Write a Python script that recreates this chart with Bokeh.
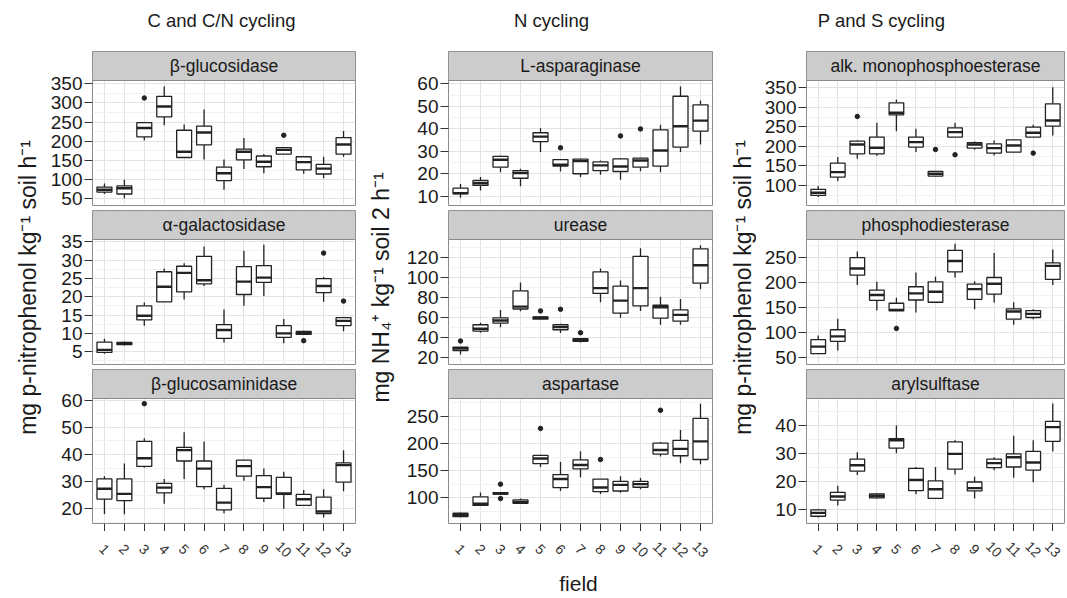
import math
import numpy as np
from bokeh.plotting import figure
from bokeh.layouts import row, column
from bokeh.models import Range1d, FixedTicker, ColumnDataSource, BoxAnnotation, Label
from bokeh.embed import file_html
from bokeh.resources import INLINE
from bokeh.core.properties import value

# ---------------- data ----------------
fields = list(range(1, 14))
field_labels = [str(f) for f in fields]
column_titles = ["C and C/N cycling", "N cycling", "P and S cycling"]
y_titles = ["mg p-nitrophenol kg\u207b\u00b9 soil h\u207b\u00b9",
            "mg NH\u2084\u207a kg\u207b\u00b9 soil 2 h\u207b\u00b9",
            "mg p-nitrophenol kg\u207b\u00b9 soil h\u207b\u00b9"]
x_title = "field"

# beta-glucosidase
glu_lo = [63, 52, 202, 242, 158, 153, 74, 128, 117, 167, 116, 104, 160]
glu_q1 = [68, 63, 212, 264, 158, 191, 98, 152, 134, 167, 126, 115, 167]
glu_med = [74, 78, 235, 291, 173, 223, 117, 173, 147, 178, 146, 129, 192]
glu_q3 = [81, 84, 249, 317, 229, 240, 133, 180, 162, 184, 160, 140, 210]
glu_hi = [90, 100, 250, 343, 244, 283, 153, 209, 167, 184, 162, 160, 227]
glu_out_x = [3, 10]
glu_out_y = [313, 216]
glu_ticks = [50, 100, 150, 200, 250, 300, 350]
glu_lim = [33, 358.6]

# alpha-galactosidase
gal_lo = [4.4, 6.7, 12.1, 18.6, 19.2, 22.9, 7.5, 17.5, 20.2, 7.3, 9.6, 18.6, 10.6]
gal_q1 = [4.8, 6.9, 13.7, 18.6, 21.3, 23.5, 8.6, 20.6, 23.9, 8.9, 9.7, 21.1, 12.1]
gal_med = [5.5, 7.2, 14.8, 22.7, 26.5, 24.5, 10.9, 24.1, 25.2, 10.0, 10.1, 22.9, 13.4]
gal_q3 = [7.6, 7.5, 17.5, 26.8, 28.3, 31.0, 12.4, 28.2, 28.5, 12.1, 10.5, 24.9, 14.3]
gal_hi = [8.5, 7.8, 18.4, 27.7, 29.1, 33.7, 16.5, 32.5, 34.2, 13.9, 10.7, 25.4, 14.3]
gal_out_x = [11, 12, 13]
gal_out_y = [8.0, 31.9, 18.8]
gal_ticks = [5, 10, 15, 20, 25, 30, 35]
gal_lim = [1.5, 35.6]

# beta-glucosaminidase
gam_lo = [18.1, 18.0, 35.1, 21.9, 31.0, 27.2, 18.4, 30.3, 22.5, 20.0, 21.3, 16.8, 26.5]
gam_q1 = [23.6, 23.0, 35.6, 25.9, 37.6, 28.2, 19.6, 32.0, 23.9, 25.3, 21.3, 18.2, 29.8]
gam_med = [27.4, 25.5, 38.6, 27.8, 41.6, 34.8, 22.3, 35.7, 28.0, 25.7, 23.5, 19.0, 36.1]
gam_q3 = [31.0, 31.0, 44.8, 29.4, 42.6, 37.6, 27.5, 37.9, 32.2, 31.6, 25.3, 24.3, 36.9]
gam_hi = [32.0, 36.7, 46.0, 31.0, 48.2, 44.8, 28.8, 38.1, 34.8, 33.6, 26.9, 27.2, 41.6]
gam_out_x = [3]
gam_out_y = [58.7]
gam_ticks = [20, 30, 40, 50, 60]
gam_lim = [14.6, 60.6]

# L-asparaginase
lasp_lo = [9.4, 12.7, 20.8, 14.6, 29.7, 21.1, 18.6, 19.6, 17.4, 21.2, 20.8, 29.7, 33.1]
lasp_q1 = [11.2, 14.9, 23.0, 18.1, 34.4, 23.5, 20.1, 21.5, 21.1, 23.0, 23.5, 31.9, 39.0]
lasp_med = [11.5, 15.9, 26.3, 20.4, 36.6, 24.1, 25.7, 23.8, 23.3, 26.0, 30.4, 41.2, 43.7]
lasp_q3 = [13.7, 17.1, 27.8, 21.5, 38.3, 26.4, 26.6, 25.4, 26.7, 27.0, 39.6, 54.5, 50.7]
lasp_hi = [15.6, 18.6, 28.2, 22.3, 40.3, 26.4, 26.9, 26.0, 27.0, 27.2, 41.8, 58.8, 52.6]
lasp_out_x = [6, 9, 10]
lasp_out_y = [31.6, 36.9, 40.0]
lasp_ticks = [10, 20, 30, 40, 50, 60]
lasp_lim = [6.0, 61.5]

# urease
ure_lo = [22.9, 44.7, 50.2, 66.0, 57.5, 44.3, 34.8, 74.9, 59.5, 66.4, 52.6, 52.6, 88.1]
ure_q1 = [26.9, 46.3, 54.2, 68.3, 58.1, 47.6, 36.1, 83.8, 64.1, 71.3, 59.1, 56.2, 94.0]
ure_med = [28.9, 48.6, 56.8, 70.6, 59.5, 50.2, 37.4, 89.1, 76.6, 89.1, 70.0, 62.4, 111.8]
ure_q3 = [30.2, 52.6, 59.5, 86.4, 60.4, 52.6, 38.7, 105.2, 91.0, 120.7, 72.0, 67.4, 128.2]
ure_hi = [30.5, 54.5, 67.4, 94.7, 60.4, 53.5, 38.7, 108.5, 96.6, 128.9, 80.5, 78.2, 131.8]
ure_out_x = [1, 5, 6, 7]
ure_out_y = [36.4, 66.4, 68.0, 44.7]
ure_ticks = [20, 40, 60, 80, 100, 120]
ure_lim = [13.0, 137.5]

# aspartase
aspt_lo = [64.0, 84.8, 106.9, 89.2, 156.7, 112.6, 137.8, 106.9, 109.4, 115.7, 176.2, 163.6, 161.7]
aspt_q1 = [65.3, 86.0, 106.9, 89.9, 163.0, 118.9, 153.5, 111.3, 112.6, 119.5, 180.6, 177.5, 170.6]
aspt_med = [68.4, 89.2, 108.1, 92.4, 172.4, 134.6, 160.5, 118.9, 123.9, 125.2, 188.2, 190.1, 204.0]
aspt_q3 = [71.6, 101.8, 109.4, 96.2, 178.1, 142.8, 169.9, 134.6, 130.2, 130.2, 200.8, 205.9, 246.2]
aspt_hi = [72.8, 110.0, 109.4, 98.7, 179.4, 166.1, 185.7, 134.6, 139.7, 136.5, 202.7, 224.8, 273.3]
aspt_out_x = [3, 3, 5, 8, 11]
aspt_out_y = [125.2, 98.7, 227.9, 170.6, 261.3]
aspt_ticks = [100, 150, 200, 250]
aspt_lim = [52.7, 283.0]

# alk. monophosphoesterase
alk_lo = [70.2, 111.2, 168.3, 176.0, 239.1, 185.4, 124.0, 223.8, 191.3, 176.8, 185.4, 223.8, 228.0]
alk_q1 = [74.5, 121.4, 181.1, 181.1, 280.9, 198.2, 124.0, 223.8, 195.6, 182.8, 185.4, 223.8, 251.9]
alk_med = [81.3, 134.2, 205.0, 196.5, 286.0, 211.0, 129.9, 236.6, 205.0, 195.6, 202.4, 234.8, 266.4]
alk_q3 = [89.8, 157.2, 213.5, 223.8, 311.6, 223.8, 135.9, 247.6, 209.3, 206.7, 216.9, 249.3, 309.1]
alk_hi = [98.4, 172.6, 215.2, 260.4, 320.1, 245.1, 135.9, 260.4, 212.7, 215.2, 217.8, 255.3, 351.7]
alk_out_x = [3, 7, 8, 12]
alk_out_y = [276.6, 192.2, 178.6, 182.8]
alk_ticks = [100, 150, 200, 250, 300, 350]
alk_lim = [48.7, 368.7]

# phosphodiesterase
pde_lo = [58.6, 64.6, 195.7, 144.7, 144.0, 140.7, 161.3, 210.9, 147.3, 160.6, 116.2, 127.5, 195.7]
pde_q1 = [58.6, 83.1, 215.6, 165.2, 144.0, 165.9, 161.3, 222.2, 167.2, 177.8, 127.5, 130.8, 207.0]
pde_med = [72.5, 93.0, 228.8, 175.8, 146.0, 179.1, 182.4, 244.0, 187.7, 198.3, 142.7, 138.1, 234.1]
pde_q3 = [86.4, 106.3, 250.7, 185.8, 159.3, 192.4, 202.3, 265.2, 197.7, 210.9, 148.0, 144.7, 240.1]
pde_hi = [95.0, 128.1, 263.2, 202.3, 170.5, 220.9, 212.2, 278.5, 203.6, 259.9, 161.3, 147.3, 267.2]
pde_out_x = [5]
pde_out_y = [109.0]
pde_ticks = [50, 100, 150, 200, 250]
pde_lim = [36.7, 287.0]

# arylsulftase
ary_lo = [7.0, 11.3, 22.2, 13.8, 30.0, 15.3, 13.8, 22.4, 13.8, 23.9, 21.2, 19.6, 30.7]
ary_q1 = [7.4, 13.2, 23.6, 14.0, 31.9, 16.6, 13.8, 24.3, 16.5, 24.9, 25.1, 24.0, 34.3]
ary_med = [8.6, 14.5, 25.7, 14.7, 34.7, 20.4, 17.1, 29.8, 17.5, 26.5, 28.6, 26.7, 39.4]
ary_q3 = [9.7, 16.0, 27.9, 15.4, 35.3, 24.6, 20.1, 34.1, 19.7, 27.9, 29.8, 30.7, 41.5]
ary_hi = [10.1, 18.4, 30.4, 15.6, 40.0, 25.1, 25.1, 34.7, 21.6, 28.6, 36.3, 34.7, 47.9]
ary_out_x = []
ary_out_y = []
ary_ticks = [10, 20, 30, 40]
ary_lim = [4.8, 49.7]

panels = [
    [("\u03b2-glucosidase", glu_lo, glu_q1, glu_med, glu_q3, glu_hi, glu_out_x, glu_out_y, glu_ticks, glu_lim),
     ("\u03b1-galactosidase", gal_lo, gal_q1, gal_med, gal_q3, gal_hi, gal_out_x, gal_out_y, gal_ticks, gal_lim),
     ("\u03b2-glucosaminidase", gam_lo, gam_q1, gam_med, gam_q3, gam_hi, gam_out_x, gam_out_y, gam_ticks, gam_lim)],
    [("L-asparaginase", lasp_lo, lasp_q1, lasp_med, lasp_q3, lasp_hi, lasp_out_x, lasp_out_y, lasp_ticks, lasp_lim),
     ("urease", ure_lo, ure_q1, ure_med, ure_q3, ure_hi, ure_out_x, ure_out_y, ure_ticks, ure_lim),
     ("aspartase", aspt_lo, aspt_q1, aspt_med, aspt_q3, aspt_hi, aspt_out_x, aspt_out_y, aspt_ticks, aspt_lim)],
    [("alk. monophosphoesterase", alk_lo, alk_q1, alk_med, alk_q3, alk_hi, alk_out_x, alk_out_y, alk_ticks, alk_lim),
     ("phosphodiesterase", pde_lo, pde_q1, pde_med, pde_q3, pde_hi, pde_out_x, pde_out_y, pde_ticks, pde_lim),
     ("arylsulftase", ary_lo, ary_q1, ary_med, ary_q3, ary_hi, ary_out_x, ary_out_y, ary_ticks, ary_lim)],
]

# ---------------- style / layout ----------------
FONT = "Liberation Sans"
FWS = [263, 264, 258]          # frame widths of the three columns
WYS = [42, 42, 42]             # width of the y-title strip
YT_X = [27, 24, 28]            # y-title centre inside that strip
BL = 50
BRS = [1, 2, 2]
FH, SH, GAP = 125, 29, 5
TITLE_H = 51
XAX_LAB_H = 34
FIELD_H = 29
BLOCK_W = [WYS[i] + BL + FWS[i] + BRS[i] for i in range(3)]
TOTAL_W = sum(BLOCK_W)
BOXW = 0.75
LC = "#222222"
TXT = "#1a1a1a"
TICKC = "#333333"
BORDER = "#8a8a8a"
STRIP_FILL = "#cccccc"
GRID_MAJ = "#e3e3e3"
GRID_MIN = "#f2f2f2"
COMMON = dict(toolbar_location=None, output_backend="svg", border_fill_color="white")


def blank(w, h, xr, yr):
    return figure(frame_width=w, frame_height=h, x_range=xr, y_range=yr,
                  x_axis_type=None, y_axis_type=None, min_border=0,
                  outline_line_color=None, background_fill_color="white", **COMMON)


def minor_ticks(ticks):
    step = ticks[1] - ticks[0]
    ext = [ticks[0] - step] + list(ticks) + [ticks[-1] + step]
    return [(a + b) / 2 for a, b in zip(ext[:-1], ext[1:])]


def panel(spec, fw, br, bottom):
    name, lo, q1, med, q3, hi, ox, oy, ticks, lim = spec
    a, b = lim
    top = b + (b - a) * SH / FH        # room above the data for the strip
    p = figure(frame_width=fw, frame_height=FH + SH,
               x_range=Range1d(0.4, 13.6), y_range=Range1d(a, top),
               x_axis_location="below" if bottom else None,
               min_border_left=BL, min_border_right=br, min_border_top=0,
               min_border_bottom=0 if bottom else GAP,
               background_fill_color="white", outline_line_color=BORDER, outline_line_width=1,
               **COMMON)
    yt = FixedTicker(ticks=ticks, minor_ticks=minor_ticks(ticks))
    p.yaxis.ticker = yt
    p.ygrid.ticker = yt
    p.xgrid.ticker = FixedTicker(ticks=fields)
    p.ygrid.grid_line_color = GRID_MAJ
    p.xgrid.grid_line_color = GRID_MAJ
    p.ygrid.minor_grid_line_color = GRID_MIN
    p.yaxis.axis_line_color = None
    p.yaxis.major_tick_out = 8
    p.yaxis.major_tick_in = 0
    p.yaxis.minor_tick_out = 0
    p.yaxis.minor_tick_in = 0
    p.yaxis.major_tick_line_color = TICKC
    p.yaxis.major_label_standoff = 2
    p.yaxis.major_label_text_font = FONT
    p.yaxis.major_label_text_font_size = "19px"
    p.yaxis.major_label_text_color = TXT
    if bottom:
        p.xaxis.ticker = FixedTicker(ticks=fields)
        p.xaxis.axis_line_color = None
        p.xaxis.major_tick_out = 8
        p.xaxis.major_tick_in = 0
        p.xaxis.minor_tick_out = 0
        p.xaxis.major_tick_line_color = TICKC
        p.xaxis.major_label_text_font_size = "1px"
        p.xaxis.major_label_text_alpha = 0
        p.xaxis.major_label_standoff = 0

    xs = np.array(fields, dtype=float)
    src = ColumnDataSource(dict(x=xs, x0=xs - BOXW / 2, x1=xs + BOXW / 2,
                                lo=lo, q1=q1, med=med, q3=q3, hi=hi))
    p.segment(x0="x", y0="q3", x1="x", y1="hi", source=src, line_color=LC, line_width=1.3)
    p.segment(x0="x", y0="q1", x1="x", y1="lo", source=src, line_color=LC, line_width=1.3)
    p.vbar(x="x", width=BOXW, top="q3", bottom="q1", source=src,
           fill_color="white", line_color=LC, line_width=1.3)
    p.segment(x0="x0", y0="med", x1="x1", y1="med", source=src, line_color=LC, line_width=2.4)
    if ox:
        p.scatter(x=ox, y=oy, size=4.5, color=LC)

    # facet strip
    p.add_layout(BoxAnnotation(bottom=b, fill_color=STRIP_FILL, fill_alpha=1.0,
                               line_color=BORDER, line_width=1, line_alpha=1.0))
    p.add_layout(Label(x=7.0, y=(b + top) / 2, text=name, text_align="center",
                       text_baseline="middle", text_font=FONT, text_font_size="17.5px",
                       text_color=TXT))
    return p


blocks = []
for ci in range(3):
    fw, br = FWS[ci], BRS[ci]
    stack = []
    for ri, spec in enumerate(panels[ci]):
        stack.append(panel(spec, fw, br, ri == 2))
    xr = stack[-1].x_range
    lab = figure(frame_width=fw, frame_height=XAX_LAB_H, x_range=xr, y_range=Range1d(0, 1),
                 x_axis_type=None, y_axis_type=None, min_border_left=BL, min_border_right=br,
                 min_border_top=0, min_border_bottom=0, outline_line_color=None,
                 background_fill_color="white", **COMMON)
    lab.text(x=fields, y=[0.48] * len(fields), text=field_labels, angle=-math.pi / 4,
             text_font=value(FONT), text_font_size=value("14px"), text_align="center",
             text_baseline="middle", text_color="#333333")
    stack.append(lab)
    stack_h = 3 * (SH + FH) + 2 * GAP
    yl = blank(WYS[ci], stack_h, Range1d(0, WYS[ci]), Range1d(0, stack_h))
    yl.text(x=[YT_X[ci]], y=[stack_h / 2], text=[y_titles[ci]], angle=math.pi / 2,
            text_font=value(FONT), text_font_size=value("23px"), text_align="center",
            text_baseline="middle", text_color=TXT)
    blocks.append(row(yl, column(*stack, spacing=0), spacing=0))

# column titles
title_fig = blank(TOTAL_W, TITLE_H, Range1d(0, TOTAL_W), Range1d(0, TITLE_H))
frame_left = [WYS[0] + BL,
              BLOCK_W[0] + WYS[1] + BL,
              BLOCK_W[0] + BLOCK_W[1] + WYS[2] + BL]
title_x = [frame_left[0] + 129, frame_left[1] + 103, frame_left[2] + 75]
title_fig.text(x=title_x, y=[TITLE_H - 20] * 3, text=column_titles, text_font=value(FONT),
               text_font_size=value("18.5px"), text_align="center", text_baseline="middle",
               text_color=TXT)

field_fig = blank(TOTAL_W, FIELD_H, Range1d(0, TOTAL_W), Range1d(0, FIELD_H))
field_fig.text(x=[frame_left[1] + 130], y=[FIELD_H - 18], text=[x_title], text_font=value(FONT),
               text_font_size=value("21px"), text_align="center", text_baseline="middle",
               text_color=TXT)

layout = column(title_fig, row(*blocks, spacing=0), field_fig, spacing=0)

open("out.html", "w").write(file_html(layout, INLINE))
